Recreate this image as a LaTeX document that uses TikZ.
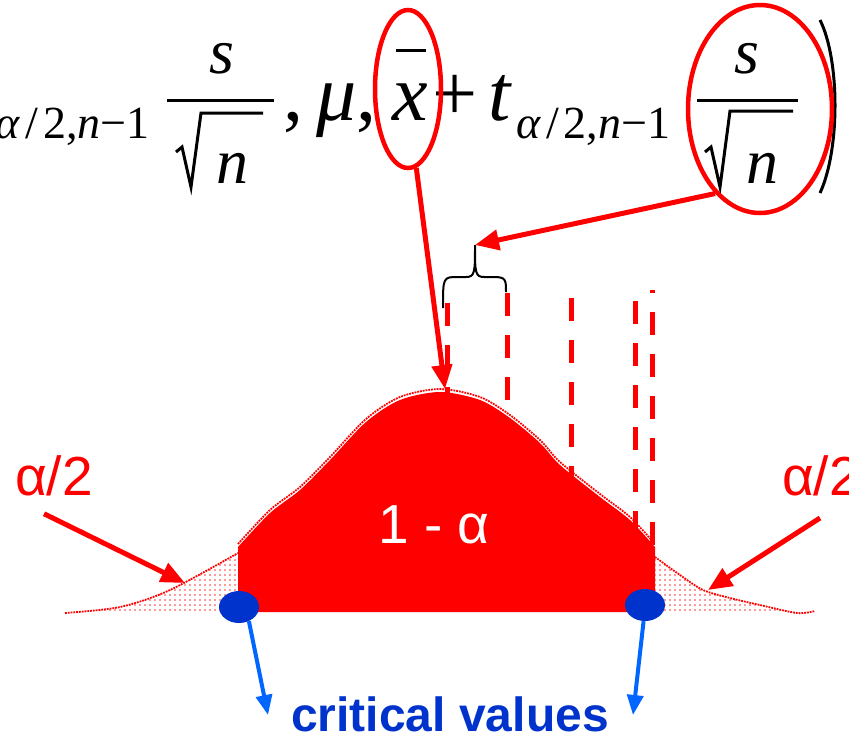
\documentclass[tikz,border=0pt]{standalone}
\usepackage{fontspec}
\setmainfont{Liberation Serif}
\newfontfamily\labelfont{Liberation Sans}
\usetikzlibrary{arrows.meta,patterns,shapes.geometric}

\definecolor{dotblue}{RGB}{0,51,204}
\definecolor{pointblue}{RGB}{0,102,255}

\pgfdeclarepatternformonly{sparse dots}{\pgfqpoint{-1pt}{-1pt}}{\pgfqpoint{1pt}{1pt}}
  {\pgfqpoint{5pt}{5pt}}
  {\pgfpathcircle{\pgfqpoint{0pt}{0pt}}{0.9pt}\pgfusepath{fill}}

\begin{document}
\begin{tikzpicture}[
  x=1pt,y=-1pt,
  formula/.style={inner sep=0pt,font=\fontsize{80}{90}\selectfont},
  subscript/.style={inner sep=0pt,font=\fontsize{46}{52}\selectfont},
  fraction/.style={inner sep=0pt,font=\fontsize{64}{72}\selectfont},
  stroke/.style={line width=3pt},
  ring/.style={
    ellipse,
    draw=red,
    line width=4.5pt,
    inner sep=0pt
  },
  pointer/.style={red,line width=5pt,-{Triangle[length=24pt,width=20pt]}},
  blue pointer/.style={pointblue,line width=4pt,-{Triangle[length=20pt,width=16pt]}},
  marker/.style={red,line width=5pt,dash pattern=on 23pt off 19pt},
  tail/.style={pattern=sparse dots,pattern color=red!80},
  edge dots/.style={red,densely dotted,line width=1.8pt},
  critical/.style={ellipse,fill=dotblue,minimum width=40pt,minimum height=32pt,inner sep=0pt},
  tag/.style={inner sep=0pt,font=\labelfont\fontsize{55}{60}\selectfont}
]
  \useasboundingbox (0,0) rectangle (849,740);

  \node[subscript,anchor=base east] (sub-left) at (150,138)
    {\textit{α}\kern5pt/\kern5pt2,\textit{n}−1};
  \node[fraction,anchor=base] (s-left) at (222,73) {\textit{s}};
  \node[fraction,anchor=base] (n-left) at (232,183) {\textit{n}};
  \draw[stroke] (167,100) -- (274,100);
  \draw[stroke] (176,152) -- (182,147) -- (191,187) -- (201,113) -- (263,113);

  \node[formula,anchor=base west] (mu) at (283,120) {,\,\textit{μ},};
  \node[formula,anchor=base] (xbar) at (410,120) {\textit{x}};
  \draw[stroke] (396,50) -- (426,50);
  \node[formula,anchor=base west] (plus) at (432,120) {+};
  \node[formula,anchor=base west] (t) at (488,120) {\textit{t}};
  \node[subscript,anchor=base west] (sub-right) at (516,138)
    {\textit{α}\kern5pt/\kern5pt2,\textit{n}−1};
  \node[fraction,anchor=base] (s-right) at (747,73) {\textit{s}};
  \node[fraction,anchor=base] (n-right) at (762,183) {\textit{n}};
  \draw[stroke] (697,100) -- (798,100);
  \draw[stroke] (705,152) -- (711,147) -- (720,187) -- (730,111) -- (793,111);
  \draw[stroke] (820,20) .. controls (840,60) and (840,150) .. (820,193);

  \node[ring,minimum width=66pt,minimum height=158pt] (ring-xbar) at (408,89) {};
  \node[ring,minimum width=144pt,minimum height=208pt] (ring-se) at (760,109) {};

  \foreach \xpos/\top/\phase in {447/303/0,507/293/0,571/298/0,635/290/31,652/290/20}
    \draw[marker,dash phase=\phase pt] (\xpos,\top) -- (\xpos,612);

  \fill[tail] (65,613) -- plot[smooth] coordinates
    {(65,613) (120,607) (170,590) (238,553)} -- (238,612) -- cycle;
  \draw[edge dots] plot[smooth] coordinates
    {(65,613) (120,607) (170,590) (238,553)};
  \fill[tail] (655,612) -- plot[smooth] coordinates
    {(655,557) (680,575) (703,590) (730,598) (760,605) (797,613) (815,611)} -- cycle;
  \draw[edge dots] plot[smooth] coordinates
    {(655,557) (680,575) (703,590) (730,598) (760,605) (797,613) (815,611)};

  \fill[red] (238,612) -- plot[smooth] coordinates
    {(238,547) (270,513) (300,490) (330,460) (366,422) (400,400) (440,392)
     (480,400) (510,418) (540,443) (560,465) (600,497) (630,520) (655,547)}
    -- (655,612) -- cycle;
  \draw[edge dots,shift={(0,-3)}] plot[smooth] coordinates
    {(238,547) (270,513) (300,490) (330,460) (366,422) (400,400) (440,392)
     (480,400) (510,418) (540,443) (560,465) (600,497) (630,520) (655,547)};

  \draw[line width=2pt]
    (443,308) .. controls (443,277) and (443,277) .. (458,277) -- (466,277)
    .. controls (475,277) and (475,272) .. (475,245)
    .. controls (475,272) and (475,277) .. (484,277) -- (494,277)
    .. controls (506,277) and (506,280) .. (506,292);
  \coordinate (brace-tip) at (475,245);
  \coordinate (peak) at (445,389);

  \draw[pointer] (ring-xbar.-84) -- (peak);
  \draw[pointer] (ring-se.-118) -- (brace-tip);

  \node[tag,text=white,anchor=base] (one-minus) at (434,543) {1 - α};
  \node[tag,text=red,anchor=base west] (alpha-left) at (15,495) {α/2};
  \node[tag,text=red,anchor=base west] (alpha-right) at (782,495) {α/2};
  \coordinate (left-tail) at (185,583);
  \coordinate (right-tail) at (708,590);
  \draw[pointer] ([xshift=-10pt,yshift=-18pt]alpha-left.south) -- (left-tail);
  \draw[pointer] (820,518) -- (right-tail);

  \node[critical] (crit-left) at (239,607) {};
  \node[critical] (crit-right) at (645,605) {};
  \node[inner sep=0pt,anchor=base,text=dotblue,font=\labelfont\bfseries\fontsize{48}{54}\selectfont]
    (crit-label) at (450,731) {critical values};
  \coordinate (crit-left-end) at (268,715);
  \coordinate (crit-right-end) at (633,715);
  \draw[blue pointer] (crit-left.-55) -- (crit-left-end);
  \draw[blue pointer] (crit-right.-95) -- (crit-right-end);
\end{tikzpicture}
\end{document}
